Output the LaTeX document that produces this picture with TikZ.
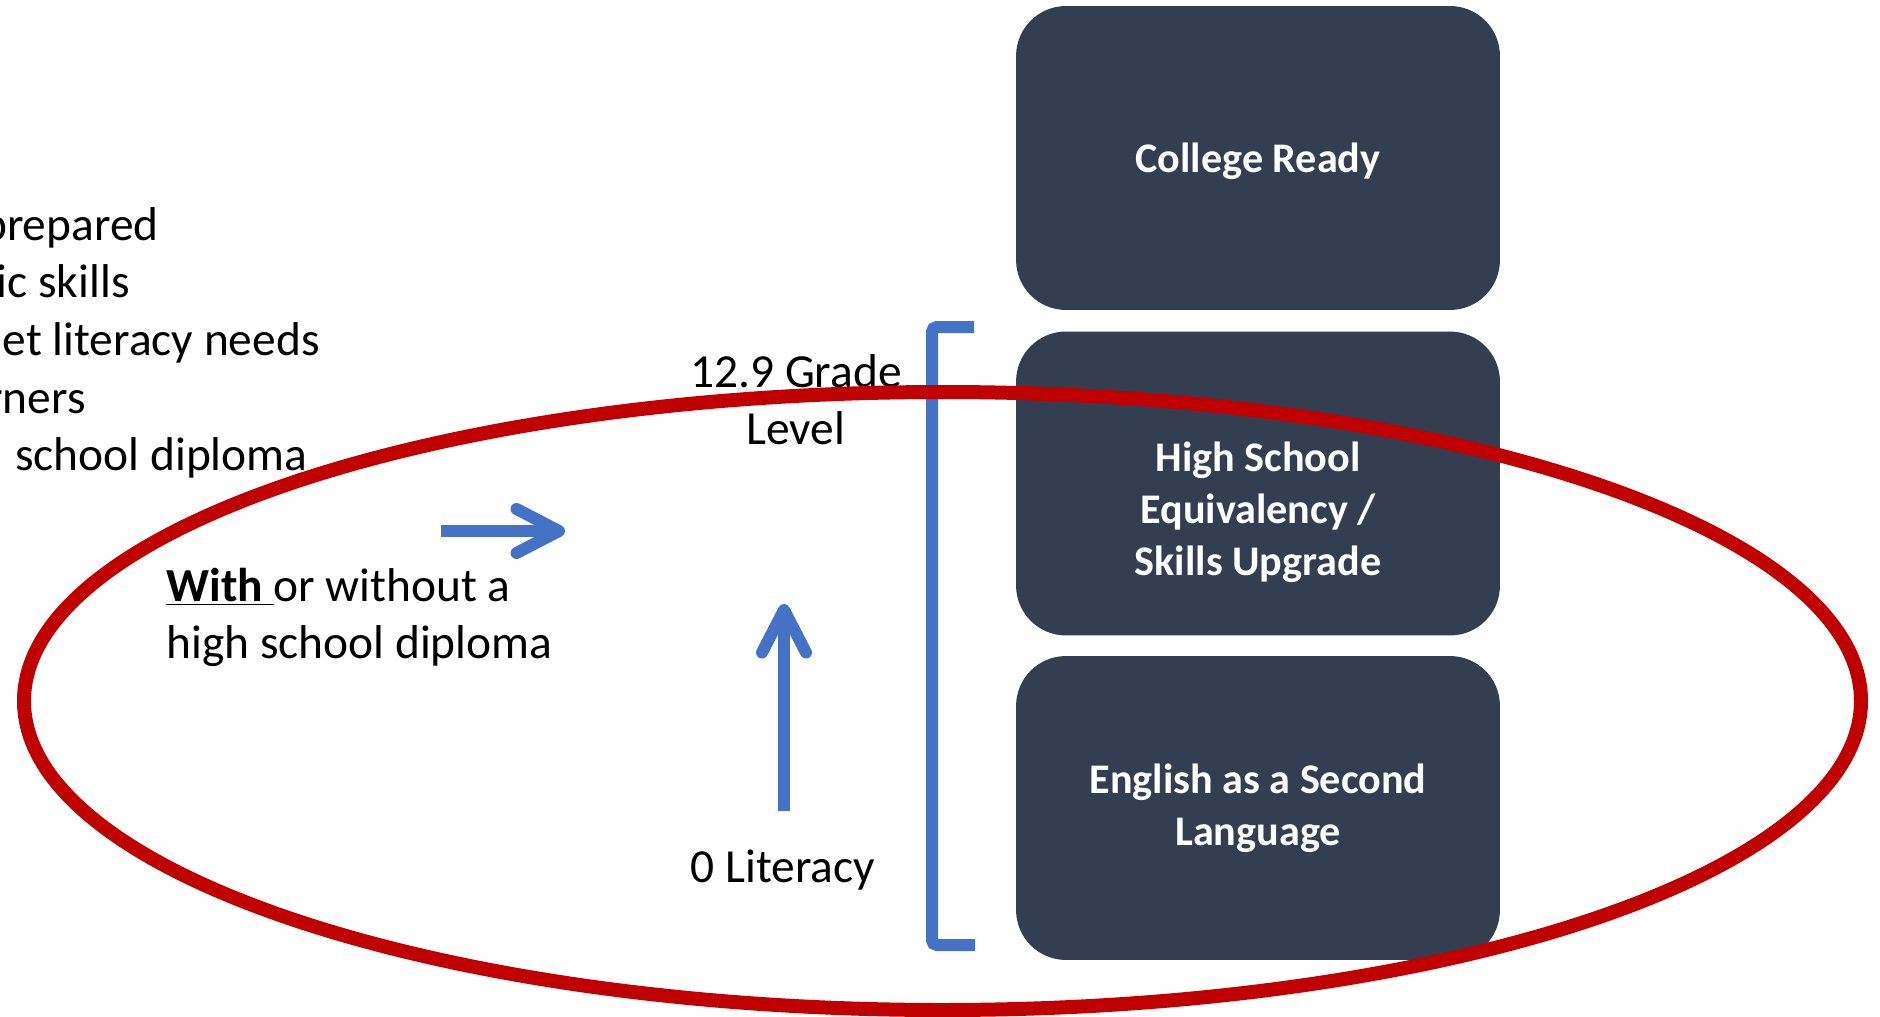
\documentclass[tikz,border=0pt]{standalone}
\usepackage{fontspec}
\setmainfont{Carlito}
\usepackage{xcolor}
\usetikzlibrary{arrows.meta}
\definecolor{boxgray}{HTML}{333F50}
\definecolor{levelblue}{HTML}{4472C4}
\definecolor{ringred}{HTML}{C00000}

\begin{document}
\begin{tikzpicture}[x=0.02cm, y=-0.02cm,
    program/.style={fill=boxgray, rounded corners=1cm, minimum width=9.68cm, minimum height=6.08cm,
      inner sep=0pt, text=white, align=center, font=\bfseries\fontsize{24}{29.5}\selectfont},
    boxtext/.style={inner sep=0pt, text=white, align=center, font=\bfseries\fontsize{24}{29.5}\selectfont},
    plain/.style={inner sep=0pt, font=\fontsize{27}{32.4}\selectfont},
    levelarrow/.style={levelblue, line width=0.24cm, -{Straight Barb[length=0.85cm, width=0.88cm, round]}}]
    \useasboundingbox (0,0) rectangle (1880,1017);
    \clip (0,0) rectangle (1880,1017);
    % Program Boxes
    \node[program, label={[boxtext, yshift=-0.06cm]center:College Ready}] (college) at (1258,158) {};
    \node[program, label={[boxtext, yshift=-0.57cm]center:{High School\\Equivalency /\\Skills Upgrade}}] (hse) at (1258,483.5) {};
    \node[program] (esl) at (1258,808) {English as a Second\\Language};
    % Learner List (cut at the left edge)
    \node[plain, anchor=base east] (prepared) at (159,240) {prepared};
    \node[plain, anchor=base east] (skills) at (130,297) {ic skills};
    \node[plain, anchor=base east] (needs) at (320,355) {et literacy needs};
    \node[plain, anchor=base east] (learners) at (86,413) {rners};
    \node[plain, anchor=base east] (diploma) at (308,470) {school diploma};
    %
    \node[plain, anchor=west, align=left] (withText) at (166,617) {\underline{\textbf{With}\ }or without a\\high school diploma};
    % Grade Levels
    \node[plain, align=center] (gradeTop) at (796,399.5) {12.9 Grade\\Level};
    \node[plain, anchor=base] (zeroLit) at (783,882) {0 Literacy};
    % Bracket
    \draw[levelblue, line width=0.24cm, rounded corners=0.1cm] (974,327) -- (932,327) -- (932,945) -- (975,945);
    % Arrows
    \coordinate (pathTail) at (441,531);
    \coordinate (pathHead) at (565,531);
    \draw[levelarrow] (pathTail) -- (pathHead);
    \coordinate (litTail) at (784,811);
    \coordinate (litHead) at (784,604);
    \draw[levelarrow] (litTail) -- (litHead);
    % Target Group Ring
    \draw[ringred, line width=0.28cm] (942.5,701) ellipse [x radius=918.5, y radius=309];
\end{tikzpicture}
\end{document}
